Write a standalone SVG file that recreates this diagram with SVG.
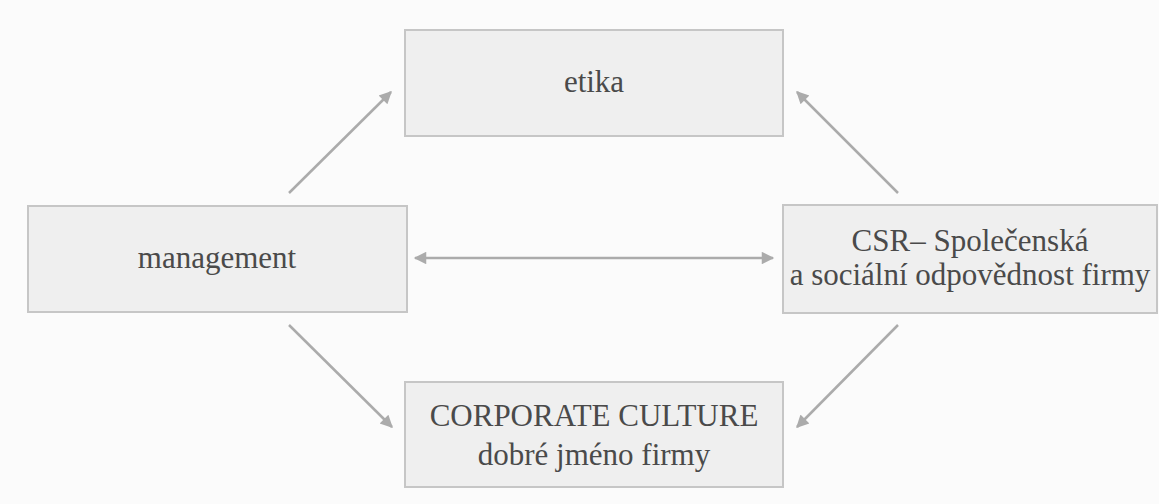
<svg xmlns="http://www.w3.org/2000/svg" width="1159" height="504" viewBox="0 0 1159 504">
<style>
.box{fill:#efefef;stroke:#c6c6c6;stroke-width:2}
.t{font-family:'Liberation Serif','Times New Roman',Times,serif;font-size:31px;fill:#4a4a4a;text-anchor:middle}
.c{stroke:#ababab;stroke-width:2.5;fill:none;marker-end:url(#ah)}
</style>
<defs>
<marker id="ah" viewBox="0 0 10 10" refX="9" refY="5" markerWidth="6" markerHeight="5" markerUnits="strokeWidth" orient="auto-start-reverse">
<path d="M0,0 L10,5 L0,10 z" fill="#ababab"/>
</marker>
</defs>
<rect width="1159" height="504" fill="#fbfbfb"/>
<g id="connectors">
<line class="c" x1="289" y1="193" x2="391" y2="92"/>
<line class="c" x1="898" y1="193" x2="797" y2="92"/>
<line class="c" x1="415" y1="258" x2="773" y2="258" style="marker-start:url(#ah)"/>
<line class="c" x1="289" y1="325" x2="392" y2="427"/>
<line class="c" x1="898" y1="325" x2="797" y2="427"/>
</g>
<g id="etika">
<rect class="box" x="405" y="30" width="378" height="106"/>
<text class="t" x="594" y="92" font-family="Liberation Serif">etika</text>
</g>
<g id="management">
<rect class="box" x="28" y="206" width="379" height="106"/>
<text class="t" x="217" y="268" font-family="Liberation Serif">management</text>
</g>
<g id="csr">
<rect class="box" x="783" y="205" width="374" height="108"/>
<text class="t" x="970" y="251" font-family="Liberation Serif">CSR– Společenská</text>
<text class="t" x="970" y="285" font-family="Liberation Serif">a sociální odpovědnost firmy</text>
</g>
<g id="corporate">
<rect class="box" x="405" y="382" width="378" height="105"/>
<text class="t" x="594" y="426" font-family="Liberation Serif">CORPORATE CULTURE</text>
<text class="t" x="594" y="465" font-family="Liberation Serif">dobré jméno firmy</text>
</g>
</svg>
